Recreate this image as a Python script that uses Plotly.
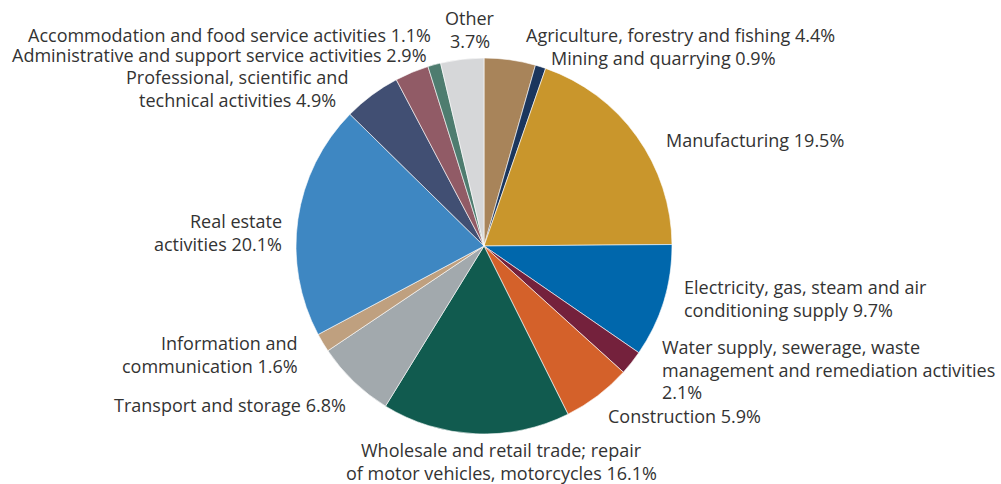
import plotly.graph_objects as go

# ---- data ----
categories = [
    "Agriculture, forestry and fishing",
    "Mining and quarrying",
    "Manufacturing",
    "Electricity, gas, steam and air conditioning supply",
    "Water supply, sewerage, waste management and remediation activities",
    "Construction",
    "Wholesale and retail trade; repair of motor vehicles, motorcycles",
    "Transport and storage",
    "Information and communication",
    "Real estate activities",
    "Professional, scientific and technical activities",
    "Administrative and support service activities",
    "Accommodation and food service activities",
    "Other",
]
values = [4.4, 0.9, 19.5, 9.7, 2.1, 5.9, 16.1, 6.8, 1.6, 20.1, 4.9, 2.9, 1.1, 3.7]

# label text wrapping (display only)
label_text = [
    "Agriculture, forestry and fishing {v}%",
    "Mining and quarrying {v}%",
    "Manufacturing {v}%",
    "Electricity, gas, steam and air|conditioning supply {v}%",
    "Water supply, sewerage, waste|management and remediation activities|{v}%",
    "Construction {v}%",
    "Wholesale and retail trade; repair|of motor vehicles, motorcycles {v}%",
    "Transport and storage {v}%",
    "Information and|communication {v}%",
    "Real estate|activities {v}%",
    "Professional, scientific and|technical activities {v}%",
    "Administrative and support service activities {v}%",
    "Accommodation and food service activities {v}%",
    "Other|{v}%",
]

# ---- styles / layout ----
colors = [
    "#A8845A", "#1B365D", "#C9962C", "#0067AC", "#74213C", "#D4612A", "#115B4F",
    "#A2A9AD", "#BFA07F", "#3E87C2", "#414F73", "#915B66", "#4E7C6F", "#D6D7D9",
]
# label placement in pixels: (x, y of first line, xanchor)
label_pos = [
    (680, 35, "center"),
    (663, 58, "center"),
    (664, 140, "left"),
    (682, 287, "left"),
    (660, 347, "left"),
    (684, 416, "center"),
    (501, 450, "center"),
    (230, 405, "center"),
    (300, 343, "right"),
    (284, 221, "right"),
    (237, 77, "center"),
    (219, 55, "center"),
    (229, 35, "center"),
    (470, 18, "center"),
]
LINE_STEP = 22.5

W, H = 1001, 484
cx, cy, r = 484, 246, 188
FONT = "Open Sans"

fig = go.Figure(go.Pie(
    labels=categories,
    values=values,
    sort=False,
    direction="clockwise",
    rotation=0,
    marker=dict(colors=colors, line=dict(color="#FFFFFF", width=0.6)),
    textinfo="none",
    hoverinfo="label+value",
    showlegend=False,
    domain=dict(x=[(cx - r) / W, (cx + r) / W], y=[(H - cy - r) / H, (H - cy + r) / H]),
))

annotations = []
for tmpl, v, (px, py, xa) in zip(label_text, values, label_pos):
    for i, line in enumerate(tmpl.format(v=v).split("|")):
        annotations.append(dict(
            text=line,
            x=px / W, y=1 - (py + i * LINE_STEP) / H, xref="paper", yref="paper",
            xanchor=xa, yanchor="middle", showarrow=False,
            font=dict(family=FONT, size=18, color="#333333"),
        ))

fig.update_layout(
    width=W, height=H,
    margin=dict(l=0, r=0, t=0, b=0),
    paper_bgcolor="white", plot_bgcolor="white",
    annotations=annotations,
)

fig.write_html("out.html", config={"displayModeBar": False},
               post_script="document.body.style.margin='0';")
